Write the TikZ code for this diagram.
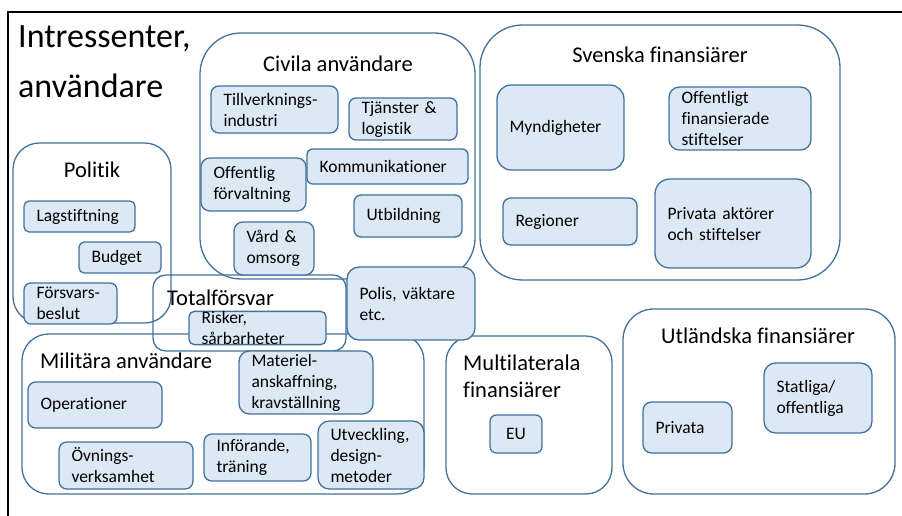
\documentclass[tikz,border=0pt]{standalone}
\usepackage{fontspec}
\setmainfont{Carlito}[Ligatures={NoCommon}]
\definecolor{bfill}{HTML}{DDE8F5}
\definecolor{bline}{HTML}{41719C}
\tikzset{
 boxst/.style={draw=bline, fill=bfill, line width=1.3pt, inner xsep=12.5pt, inner ysep=0pt, align=left, font=\fontsize{17.5}{21}\selectfont},
 grpst/.style={draw=bline, line width=1.3pt, inner sep=0pt},
 gtitle/.style={font=\fontsize{22.5}{27}\selectfont, inner sep=0pt},
 mtitle/.style={font=\fontsize{34}{40}\selectfont, inner sep=0pt, anchor=base west},
}
\newcommand\bx[7][]{%
 \pgfmathsetmacro\mybw{#5-#3}\pgfmathsetmacro\mybh{#6-#4}%
 \pgfmathsetmacro\mybcx{(#3+#5)/2}\pgfmathsetmacro\mybcy{(#4+#6)/2}%
 \pgfmathsetmacro\mybtw{#5-#3-25}\pgfmathsetmacro\mybr{min(\mybw,\mybh)/6}%
 \node[boxst, minimum width=\mybw pt, minimum height=\mybh pt, text width=\mybtw pt, rounded corners=\mybr pt, #1] (#2) at (\mybcx,\mybcy) {#7};}
\newcommand\grp[5]{%
 \pgfmathsetmacro\mygw{#4-#2}\pgfmathsetmacro\mygh{#5-#3}%
 \pgfmathsetmacro\mygcx{(#2+#4)/2}\pgfmathsetmacro\mygcy{(#3+#5)/2}%
 \pgfmathsetmacro\mygr{min(\mygw,\mygh)/6}%
 \node[grpst, minimum width=\mygw pt, minimum height=\mygh pt, rounded corners=\mygr pt] (#1) at (\mygcx,\mygcy) {};}
\begin{document}
\begin{tikzpicture}[x=1pt,y=-1pt]
\useasboundingbox (0,0) rectangle (902,516);
% frame
\coordinate (ftl) at (8,12); \coordinate (ftr) at (902,12); \coordinate (fbl) at (8,516);
\draw[black, line width=1.5pt] (ftr) -- (ftl) -- (fbl);
% main title
\node[mtitle] (title1) at (18,48) {Intressenter,};
\node[mtitle] (title2) at (18,98) {användare};
% containers
\grp{civ}{200}{33}{475}{279}
\grp{pol}{13}{143}{171}{323}
\grp{tot}{153}{275}{346}{351}
\grp{mil}{22}{334}{424}{494}
\grp{sve}{480}{25}{840}{280}
\grp{mul}{446}{336}{612}{494}
\grp{utl}{623}{309}{895}{494}
% container titles
\node[gtitle, anchor=base] (tciv) at (338,72) {Civila användare};
\node[gtitle, anchor=base] (tpol) at (92,177) {Politik};
\node[gtitle, anchor=base west] (ttot) at (167,305) {Totalförsvar};
\node[gtitle, anchor=base west] (tmil) at (40,368) {Militära användare};
\node[gtitle, anchor=base] (tsve) at (660,63) {Svenska finansiärer};
\node[gtitle, anchor=base west] (tmul1) at (463,370) {Multilaterala};
\node[gtitle, anchor=base west] (tmul2) at (463,397) {finansiärer};
\node[gtitle, anchor=base] (tutl) at (758,343) {Utländska finansiärer};
% Civila
\bx{till}{211}{86}{338}{133}{Tillverknings-\\industri}
\bx{tjan}{349}{98}{457}{140}{Tjänster \&\\logistik}
\bx{off}{201}{158}{306}{211}{Offentlig\\förvaltning}
\bx{komm}{307}{149}{468}{184}{Kommunikationer}
\bx{utb}{354}{195}{462}{237}{Utbildning}
\bx{vard}{234}{222}{314}{275}{Vård \&\\omsorg}
% Politik
\bx{lag}{24}{201}{135}{232}{Lagstiftning}
\bx{bud}{79}{242}{161}{273}{Budget}
\bx{fors}{24}{283}{117}{324}{Försvars-\\beslut}
% Totalforsvar
\bx{risk}{189}{312}{326}{344}{Risker,\\sårbarheter}
\bx{polis}{347}{267}{475}{340}{Polis, väktare\\etc.}
% Militara
\bx{oper}{28}{382}{162}{428}{Operationer}
\bx{mat}{239}{351}{373}{414}{Materiel-\\anskaffning,\\kravställning}
\bx{ovn}{59}{442}{193}{489}{Övnings-\\verksamhet}
\bx{inf}{204}{434}{311}{481}{Införande,\\träning}
\bx{utv}{318}{421}{424}{489}{Utveckling,\\design-\\metoder}
% Svenska
\bx{mynd}{497}{85}{624}{170}{Myndigheter}
\bx{ofst}{669}{87}{811}{150}{Offentligt\\finansierade\\stiftelser}
\bx{reg}{503}{198}{637}{245}{Regioner}
\bx{priv}{655}{179}{811}{268}{Privata aktörer\\och stiftelser}
% Multilaterala
\bx[align=center]{eu}{490}{415}{542}{453}{EU}
% Utlandska
\bx{upriv}{643}{402}{732}{453}{Privata}
\bx{stat}{764}{363}{872}{433}{Statliga/\\offentliga}
\end{tikzpicture}
\end{document}
